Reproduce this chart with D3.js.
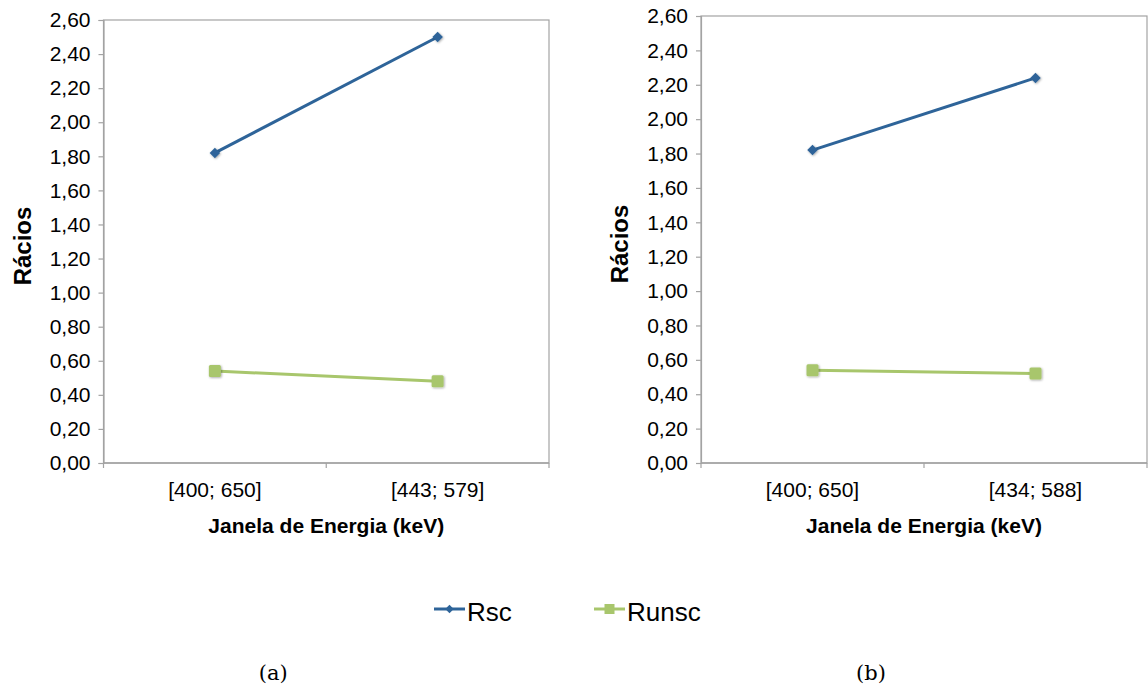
<!DOCTYPE html>
<html>
<head>
<meta charset="utf-8">
<script src="https://cdn.jsdelivr.net/npm/d3@7"></script>
<style>
  body { margin: 0; background: #fff; }
  text { font-family: "Liberation Sans", Arial, sans-serif; fill: #000; }
</style>
</head>
<body>
<svg width="1148" height="686"></svg>
<script>
// data
var seriesNames = ["Rsc", "Runsc"];
var catsA = ["[400; 650]", "[443; 579]"];
var catsB = ["[400; 650]", "[434; 588]"];
var rscA = [1.82, 2.50];
var runscA = [0.54, 0.48];
var rscB = [1.82, 2.24];
var runscB = [0.54, 0.52];
var yTicks = [0, 0.2, 0.4, 0.6, 0.8, 1.0, 1.2, 1.4, 1.6, 1.8, 2.0, 2.2, 2.4, 2.6];
var captions = ["(a)", "(b)"];

var colors = { Rsc: "#2e6499", Runsc: "#a8c66c" };
var axisColor = "#a3a3a3";

var svg = d3.select("svg");

// soft shadow like the excel markers
var defs = svg.append("defs");
var f = defs.append("filter").attr("id", "shadow").attr("x", "-50%").attr("y", "-50%").attr("width", "200%").attr("height", "200%");
f.append("feDropShadow").attr("dx", 0.8).attr("dy", 0.8).attr("stdDeviation", 1.2).attr("flood-color", "#000").attr("flood-opacity", 0.35);

var fmt = function (d) { return d3.format(".2f")(d).replace(".", ","); };

function drawPanel(box, cats, rsc, runsc, caption) {
  var x = d3.scalePoint().domain(cats).range([box.left, box.right]).padding(0.5);
  var y = d3.scaleLinear().domain([0, 2.6]).range([box.bottom, box.top]);
  var g = svg.append("g");

  // plot frame
  g.append("rect")
    .attr("x", box.left).attr("y", box.top)
    .attr("width", box.right - box.left).attr("height", box.bottom - box.top)
    .attr("fill", "none").attr("stroke", axisColor).attr("stroke-width", 1.2);

  // y axis
  var ya = g.append("g").attr("transform", "translate(" + box.left + ",0)")
    .call(d3.axisLeft(y).tickValues(yTicks).tickFormat(fmt).tickSize(5).tickPadding(8));
  ya.select(".domain").attr("stroke", axisColor).attr("stroke-width", 1.2);
  ya.selectAll(".tick line").attr("stroke", axisColor).attr("stroke-width", 1.2);
  ya.selectAll("text").style("font-size", "21px").attr("fill", "#000");

  // x axis, ticks sit between categories
  var step = x.step();
  var xb = [box.left, box.left + step, box.right];
  var xa = g.append("g").attr("transform", "translate(0," + box.bottom + ")");
  xa.append("line").attr("x1", box.left).attr("x2", box.right)
    .attr("stroke", axisColor).attr("stroke-width", 1.6);
  xa.selectAll("line.tk").data(xb).enter().append("line").attr("class", "tk")
    .attr("x1", function (d) { return d; }).attr("x2", function (d) { return d; })
    .attr("y1", 0).attr("y2", 5).attr("stroke", axisColor).attr("stroke-width", 1.2);
  xa.selectAll("text").data(cats).enter().append("text")
    .attr("x", function (d) { return x(d); }).attr("y", 34)
    .attr("text-anchor", "middle").style("font-size", "21px").text(function (d) { return d; });

  // titles
  g.append("text").attr("x", (box.left + box.right) / 2).attr("y", box.bottom + 70)
    .attr("text-anchor", "middle").style("font-size", "21px").style("font-weight", "bold")
    .text("Janela de Energia (keV)");
  g.append("text")
    .attr("transform", "translate(" + (box.left - 73) + "," + ((box.top + box.bottom) / 2 + 4.5) + ") rotate(-90)")
    .attr("text-anchor", "middle").style("font-size", "24px").style("font-weight", "bold")
    .text("Rácios");

  // lines
  var line = d3.line().x(function (d, i) { return x(cats[i]); }).y(function (d) { return y(d); });
  [["Rsc", rsc], ["Runsc", runsc]].forEach(function (s) {
    g.append("path").datum(s[1]).attr("d", line)
      .attr("fill", "none").attr("stroke", colors[s[0]]).attr("stroke-width", 3);
  });

  // markers
  g.selectAll(".m1").data(rsc).enter().append("path")
    .attr("transform", function (d, i) { return "translate(" + x(cats[i]) + "," + y(d) + ")"; })
    .attr("d", d3.symbol().type(d3.symbolDiamond2).size(70))
    .attr("fill", colors.Rsc).attr("filter", "url(#shadow)");
  g.selectAll(".m2").data(runsc).enter().append("rect")
    .attr("x", function (d, i) { return x(cats[i]) - 6; }).attr("y", function (d) { return y(d) - 6; })
    .attr("width", 12).attr("height", 12).attr("rx", 1.5)
    .attr("fill", colors.Runsc).attr("filter", "url(#shadow)");

  // caption
  svg.append("text").attr("x", (box.left + box.right) / 2 - 53).attr("y", 680)
    .attr("text-anchor", "middle").style("font-family", "'DejaVu Serif', 'Liberation Serif', serif")
    .style("font-size", "21px").text(caption);
}

drawPanel({ left: 103.5, right: 549, top: 20, bottom: 463 }, catsA, rscA, runscA, captions[0]);
drawPanel({ left: 701, right: 1147, top: 16, bottom: 463 }, catsB, rscB, runscB, captions[1]);

// legend
var legend = svg.append("g");
var lx = [434, 594];
seriesNames.forEach(function (name, i) {
  var lg = legend.append("g").attr("transform", "translate(" + lx[i] + ",609)");
  lg.append("line").attr("x1", 0).attr("x2", 31).attr("stroke", colors[name]).attr("stroke-width", 3);
  if (name === "Rsc") {
    lg.append("path").attr("transform", "translate(15.5,0)")
      .attr("d", d3.symbol().type(d3.symbolDiamond2).size(45)).attr("fill", colors[name]);
  } else {
    lg.append("rect").attr("x", 10.5).attr("y", -5).attr("width", 10).attr("height", 10).attr("fill", colors[name]);
  }
  lg.append("text").attr("x", 33).attr("y", 12).style("font-size", "26px").text(name);
});
</script>
</body>
</html>
